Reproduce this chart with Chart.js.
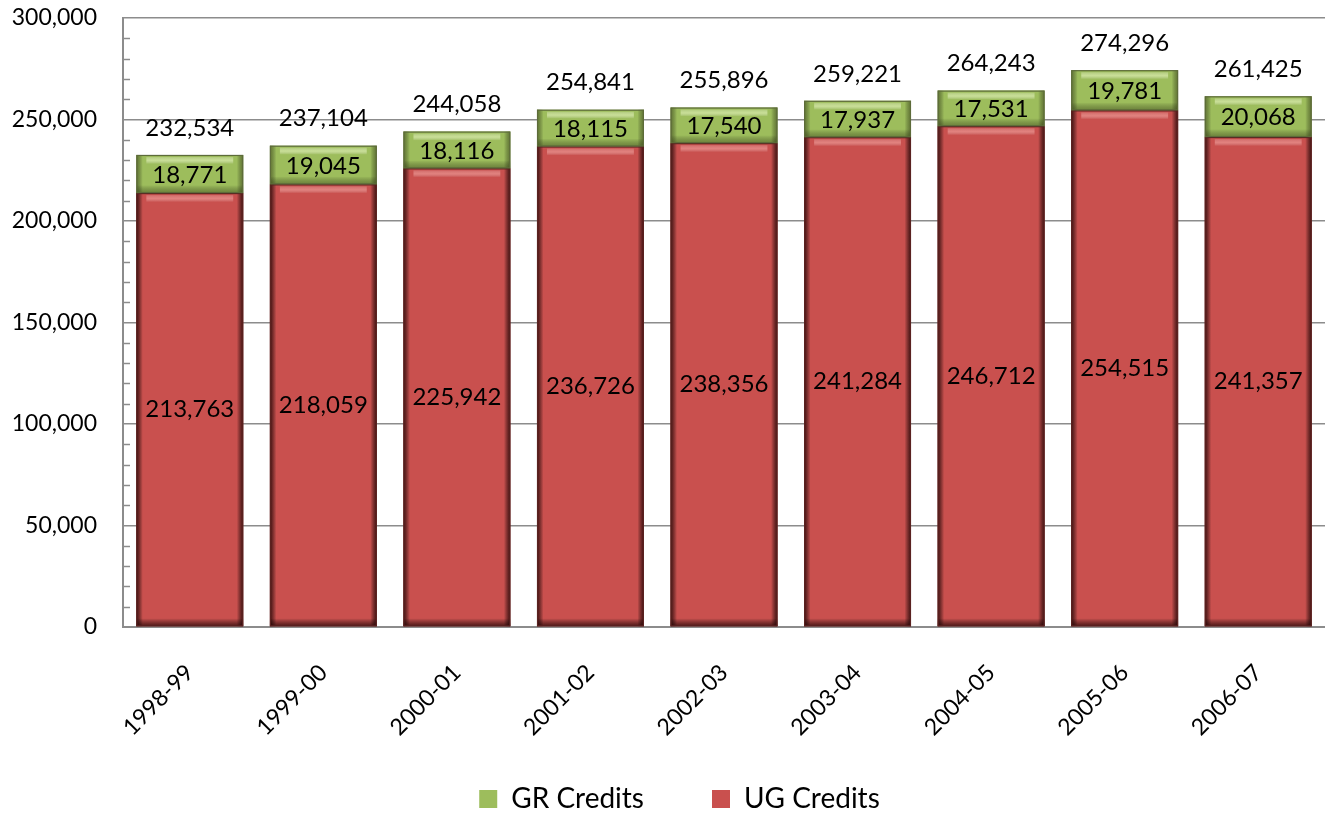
<!DOCTYPE html>
<html>
<head>
<meta charset="utf-8">
<script src="https://cdn.jsdelivr.net/npm/chart.js@4.4.1/dist/chart.umd.min.js"></script>
<style>
  html, body { margin: 0; padding: 0; background: #ffffff; }
  #wrap { width: 1325px; height: 813px; position: relative; }
</style>
</head>
<body>
<div id="wrap"><canvas id="c"></canvas></div>
<script>
const categories = ['1998-99', '1999-00', '2000-01', '2001-02', '2002-03', '2003-04', '2004-05', '2005-06', '2006-07'];
const ugCredits = [213763, 218059, 225942, 236726, 238356, 241284, 246712, 254515, 241357];
const grCredits = [18771, 19045, 18116, 18115, 17540, 17937, 17531, 19781, 20068];
const totalCredits = [232534, 237104, 244058, 254841, 255896, 259221, 264243, 274296, 261425];
const yMin = 0;
const yMax = 300000;
const yMajorStep = 50000;
const yMinorStep = 10000;

const fmt = v => Number(v).toLocaleString('en-US');
const FONT = 'Lato, "Open Sans", sans-serif';

const barStylePlugin = {
  id: 'barStyle',
  afterLayout(chart) {
    // let axis labels render outside their boxes without clipping
    chart.scales.x.bottom = chart.height;
    chart.scales.y.left = 0;
  },
  afterDatasetsDraw(chart) {
    const ctx = chart.ctx;
    chart.data.datasets.forEach((ds, di) => {
      const meta = chart.getDatasetMeta(di);
      if (meta.hidden) return;
      meta.data.forEach(el => {
        const p = el.getProps(['x', 'y', 'base', 'width'], true);
        const left = p.x - p.width / 2, right = p.x + p.width / 2;
        const top = Math.min(p.y, p.base), bottom = Math.max(p.y, p.base);
        const h = bottom - top;
        ctx.save();
        const g = ctx.createLinearGradient(left, 0, right, 0);
        const edge = di === 0 ? 'rgba(40,5,5,0.85)' : 'rgba(50,60,20,0.55)';
        g.addColorStop(0, edge);
        g.addColorStop(0.06, 'rgba(0,0,0,0)');
        g.addColorStop(0.94, 'rgba(0,0,0,0)');
        g.addColorStop(1, edge);
        ctx.fillStyle = g;
        ctx.fillRect(left, top, p.width, h);
        const gb = ctx.createLinearGradient(0, bottom - 8, 0, bottom);
        gb.addColorStop(0, 'rgba(0,0,0,0)');
        gb.addColorStop(1, di === 0 ? 'rgba(40,5,5,0.75)' : 'rgba(50,60,20,0.45)');
        ctx.fillStyle = gb;
        ctx.fillRect(left, bottom - 8, p.width, 8);
        const gt = ctx.createLinearGradient(0, top, 0, top + 9);
        gt.addColorStop(0, 'rgba(255,255,255,0)');
        gt.addColorStop(0.6, di === 0 ? 'rgba(255,190,185,0.45)' : 'rgba(230,245,190,0.6)');
        gt.addColorStop(1, 'rgba(255,255,255,0)');
        ctx.fillStyle = gt;
        ctx.fillRect(left + 10, top + 2, p.width - 20, 9);
        ctx.strokeStyle = di === 0 ? '#5a2220' : '#5d6b3a';
        ctx.lineWidth = 1.2;
        ctx.strokeRect(left + 0.5, top + 0.5, p.width - 1, h - 1);
        ctx.restore();
      });
    });

    const ys = chart.scales.y;
    const xa = chart.chartArea.left;
    ctx.save();
    ctx.strokeStyle = '#8c8c8c';
    ctx.lineWidth = 1.5;
    for (let v = yMin; v <= yMax; v += yMinorStep) {
      if (v % yMajorStep === 0) continue;
      const py = Math.round(ys.getPixelForValue(v)) + 0.5;
      ctx.beginPath();
      ctx.moveTo(xa, py);
      ctx.lineTo(xa + 7, py);
      ctx.stroke();
    }
    ctx.restore();

    ctx.save();
    ctx.font = '24px ' + FONT;
    ctx.fillStyle = '#000000';
    ctx.textAlign = 'center';
    ctx.textBaseline = 'middle';
    const ugMeta = chart.getDatasetMeta(0);
    const grMeta = chart.getDatasetMeta(1);
    ugMeta.data.forEach((el, i) => {
      const p = el.getProps(['x', 'y', 'base'], true);
      ctx.fillText(fmt(ugCredits[i]), p.x, (p.y + p.base) / 2);
    });
    grMeta.data.forEach((el, i) => {
      const p = el.getProps(['x', 'y', 'base'], true);
      ctx.fillText(fmt(grCredits[i]), p.x, (p.y + p.base) / 2 + 1);
      ctx.fillText(fmt(totalCredits[i]), p.x, p.y - 27);
    });
    ctx.restore();
  }
};

new Chart(document.getElementById('c'), {
  type: 'bar',
  data: {
    labels: categories,
    datasets: [
      {
        label: 'UG Credits',
        data: ugCredits,
        backgroundColor: '#c9504e',
        borderWidth: 0,
        barPercentage: 0.8,
        categoryPercentage: 1.0
      },
      {
        label: 'GR Credits',
        data: grCredits,
        backgroundColor: '#9dbd5c',
        borderWidth: 0,
        barPercentage: 0.8,
        categoryPercentage: 1.0
      }
    ]
  },
  options: {
    responsive: true,
    maintainAspectRatio: false,
    animation: false,
    layout: { padding: { top: 18, right: 0, bottom: -10, left: 34 } },
    plugins: {
      legend: {
        position: 'bottom',
        reverse: true,
        labels: {
          font: { family: FONT, size: 28 },
          color: '#000000',
          boxWidth: 18,
          boxHeight: 18,
          padding: 68
        }
      },
      tooltip: { enabled: false }
    },
    scales: {
      x: {
        stacked: true,
        grid: { display: false, drawTicks: false },
        border: { display: true, color: '#8c8c8c', width: 2 },
        ticks: {
          minRotation: 45,
          maxRotation: 45,
          padding: 32,
          color: '#000000',
          font: { family: FONT, size: 23 }
        },
        afterFit(scale) { scale.height = 90; }
      },
      y: {
        stacked: true,
        min: yMin,
        max: yMax,
        grid: { color: '#8c8c8c', lineWidth: 1.5, drawTicks: true, tickLength: 26, tickColor: 'rgba(0,0,0,0)' },
        border: { display: true, color: '#8c8c8c', width: 2 },
        ticks: {
          stepSize: yMajorStep,
          padding: 0,
          color: '#000000',
          font: { family: FONT, size: 23 },
          callback: v => fmt(v)
        },
        afterFit(scale) { scale.width = 89; }
      }
    }
  },
  plugins: [barStylePlugin]
});
</script>
</body>
</html>
